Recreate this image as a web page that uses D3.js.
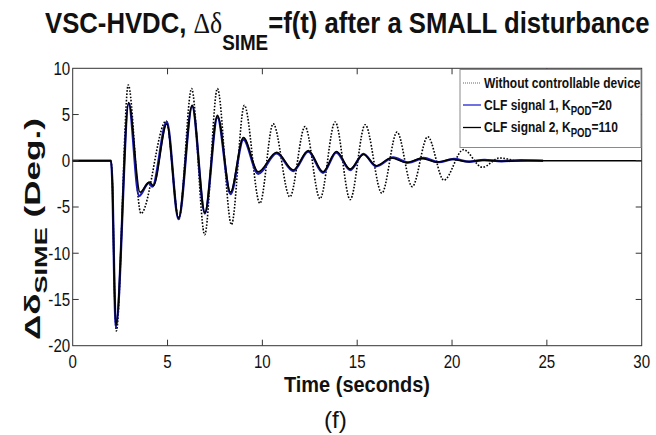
<!DOCTYPE html>
<html lang="en">
<head>
<meta charset="utf-8">
<title>VSC-HVDC small disturbance</title>
<script src="https://d3js.org/d3.v7.min.js"></script>
<style>
body { margin: 0; background: #fff; }
svg text { font-family: Arial, "Liberation Sans", sans-serif; fill: #111; }
</style>
</head>
<body>
<script>
// values (turning points of each trace)
const tNone = [0, 2.02, 2.1, 2.2, 2.3, 2.93, 3.6, 4.93, 5.6, 6.27, 6.96, 7.63, 8.37, 9.05, 9.87, 10.57, 11.45, 12.25, 13.04, 13.84, 14.63, 15.42, 16.3, 17.1, 17.9, 18.72, 19.57, 20.6, 21.6, 22.5, 23.3];
const vNone = [0, 0, -3, -13.7, -18.4, 8.2, -5.7, 4.3, -6.3, 7.8, -8.0, 7.8, -6.9, 6.0, -4.6, 4.0, -3.9, 3.7, -4.1, 4.2, -4.2, 3.9, -3.5, 3.1, -2.8, 2.6, -2.1, 1.2, -0.7, 0.3, 0];

const tSig1 = [0, 2.02, 2.1, 2.2, 2.28, 2.95, 3.5, 4.0, 4.2, 4.96, 5.58, 6.3, 6.97, 7.63, 8.32, 9.0, 9.78, 10.75, 11.63, 12.42, 13.2, 13.9, 14.63, 15.33, 16.0, 16.9, 17.7, 18.5, 19.3, 20.1, 20.9, 21.7, 22.6, 23.6, 24.8];
const vSig1 = [0, 0, -3, -13.8, -18.0, 6.2, -3.8, -2.4, -2.8, 4.2, -6.3, 5.9, -5.7, 4.7, -3.6, 2.3, -1.4, 0.8, -1.1, 1.0, -1.3, 0.9, -1.0, 0.75, -0.6, 0.35, -0.2, 0.3, -0.15, 0.2, -0.1, 0.1, -0.05, 0.05, 0];

const tSig2 = [0, 2.02, 2.1, 2.2, 2.28, 2.95, 3.55, 4.05, 4.25, 4.96, 5.58, 6.3, 6.97, 7.63, 8.32, 9.0, 9.78, 10.75, 11.63, 12.42, 13.2, 13.9, 14.63, 15.33, 16.0, 16.8, 17.6, 18.4, 19.2, 20.0, 20.8, 21.6, 22.6, 24, 30];
const vSig2 = [0, 0, -3, -13.5, -17.8, 6.3, -3.4, -2.3, -2.7, 4.0, -6.2, 6.0, -5.6, 4.9, -3.4, 2.5, -1.2, 0.9, -1.0, 1.1, -1.2, 1.0, -0.9, 0.7, -0.55, 0.3, -0.2, 0.25, -0.15, 0.15, -0.1, 0.05, -0.05, 0, 0];

const xTicks = [0, 5, 10, 15, 20, 25, 30];
const yTicks = [-20, -15, -10, -5, 0, 5, 10];

const width = 656, height = 435;
const margin = {top: 68.3, right: 14.3, bottom: 89.3, left: 72.7};
const narrow = 0.84; // the figure uses a condensed sans

const svg = d3.select("body").append("svg")
    .attr("width", width)
    .attr("height", height);

const x = d3.scaleLinear().domain([0, 30]).range([margin.left, width - margin.right]);
const y = d3.scaleLinear().domain([-20, 10]).range([height - margin.bottom, margin.top]);

// squeeze a text group so it spans targetW px starting at x0
function fit(g, x0, y0, targetW, rot) {
    const w = g.node().getBBox().width;
    const s = targetW / w;
    g.attr("transform", "translate(" + x0 + "," + y0 + ")" + (rot ? " rotate(" + rot + ")" : "") + " scale(" + s + ",1)");
}

// TITLE
const title = svg.append("g");
const tt = title.append("text").attr("font-size", 30).attr("font-weight", "bold");
tt.append("tspan").text("VSC-HVDC, ");
tt.append("tspan").attr("font-family", "'Liberation Serif', 'Times New Roman', serif").attr("font-weight", "normal").text("\u0394\u03b4");
tt.append("tspan").attr("font-size", 22).attr("dy", 17).text("SIME");
tt.append("tspan").attr("dy", -17).text("=f(t) after a SMALL disturbance");
fit(title, 45, 33, 605);

// LINES
const line = d3.line()
    .x(d => x(d[0]))
    .y(d => y(d[1]))
    .curve(d3.curveMonotoneX);

const series = [
    {t: tNone, v: vNone, color: "#000", w: 1.6, dash: "1.6,1.6"},
    {t: tSig1, v: vSig1, color: "#1c1cb4", w: 2.4, dash: null},
    {t: tSig2, v: vSig2, color: "#000", w: 1.7, dash: null}
];

svg.append("g").selectAll("path")
    .data(series)
    .join("path")
    .attr("fill", "none")
    .attr("stroke", d => d.color)
    .attr("stroke-width", d => d.w)
    .attr("stroke-dasharray", d => d.dash)
    .attr("d", d => line(d.t.map((t, i) => [t, d.v[i]])));

// AXES (box with inward ticks on all sides)
const tick = 6;
const axes = svg.append("g").attr("stroke", "#333").attr("stroke-width", 1);
axes.append("rect")
    .attr("x", x(0)).attr("y", y(10))
    .attr("width", x(30) - x(0)).attr("height", y(-20) - y(10))
    .attr("fill", "none");
axes.selectAll("line.xb").data(xTicks.slice(1, -1)).join("line")
    .attr("x1", d => x(d)).attr("x2", d => x(d))
    .attr("y1", y(-20)).attr("y2", y(-20) - tick);
axes.selectAll("line.xt").data(xTicks.slice(1, -1)).join("line")
    .attr("x1", d => x(d)).attr("x2", d => x(d))
    .attr("y1", y(10)).attr("y2", y(10) + tick);
axes.selectAll("line.yl").data(yTicks.slice(1, -1)).join("line")
    .attr("x1", x(0)).attr("x2", x(0) + tick)
    .attr("y1", d => y(d)).attr("y2", d => y(d));
axes.selectAll("line.yr").data(yTicks.slice(1, -1)).join("line")
    .attr("x1", x(30)).attr("x2", x(30) - tick)
    .attr("y1", d => y(d)).attr("y2", d => y(d));

// TICK LABELS
svg.append("g").selectAll("text")
    .data(xTicks)
    .join("text")
    .attr("transform", d => "translate(" + x(d) + "," + 368 + ") scale(" + narrow + ",1)")
    .attr("text-anchor", "middle")
    .attr("font-size", 18)
    .text(d => d);

svg.append("g").selectAll("text")
    .data(yTicks)
    .join("text")
    .attr("transform", d => "translate(" + (x(0) - 2.5) + "," + (y(d) + 6.3) + ") scale(" + narrow + ",1)")
    .attr("text-anchor", "end")
    .attr("font-size", 18)
    .text(d => d);

// AXIS TITLES
const xl = svg.append("g");
xl.append("text").attr("font-size", 22).attr("font-weight", "bold").text("Time (seconds)");
fit(xl, 284, 392, 146);

const fl = svg.append("g");
fl.append("text").attr("font-size", 23).text("(f)");
fit(fl, 324, 428, 23);

const yl = svg.append("g");
const yt = yl.append("text").attr("font-size", 22).attr("font-weight", "bold");
yt.append("tspan").text("\u0394\u03b4");
yt.append("tspan").attr("font-size", 17).attr("dy", 7).text("SIME");
yt.append("tspan").attr("dy", -7).text(" (Deg.)");
fit(yl, 40, 340, 222, -90);

// LEGEND
const legendLabels = ["Without controllable device", "CLF signal 1, K", "CLF signal 2, K"];
const legendSubs = ["", "POD", "POD"];
const legendTails = ["", "=20", "=110"];

const lg = svg.append("g");
lg.append("rect")
    .attr("x", 460).attr("y", 69.5)
    .attr("width", 181).attr("height", 78)
    .attr("fill", "#fff").attr("stroke", "#8a8a8a").attr("stroke-width", 1);

const rowY = [87.5, 109.5, 132];
series.forEach((s, i) => {
    lg.append("line")
        .attr("x1", 463).attr("x2", 481)
        .attr("y1", rowY[i] - 4.5).attr("y2", rowY[i] - 4.5)
        .attr("stroke", i === 0 ? "#666" : (i === 1 ? "#2424d8" : "#000"))
        .attr("stroke-width", i === 0 ? 1 : 1.3)
        .attr("stroke-dasharray", i === 0 ? "1,1" : null);
    const tg = lg.append("g").attr("transform", "translate(484," + rowY[i] + ") scale(0.8,1)");
    const tx = tg.append("text").attr("font-size", 15).attr("font-weight", "bold");
    tx.append("tspan").text(legendLabels[i]);
    if (legendSubs[i]) {
        tx.append("tspan").attr("font-size", 12).attr("dy", 5).text(legendSubs[i]);
        tx.append("tspan").attr("dy", -5).text(legendTails[i]);
    }
});
</script>
</body>
</html>
